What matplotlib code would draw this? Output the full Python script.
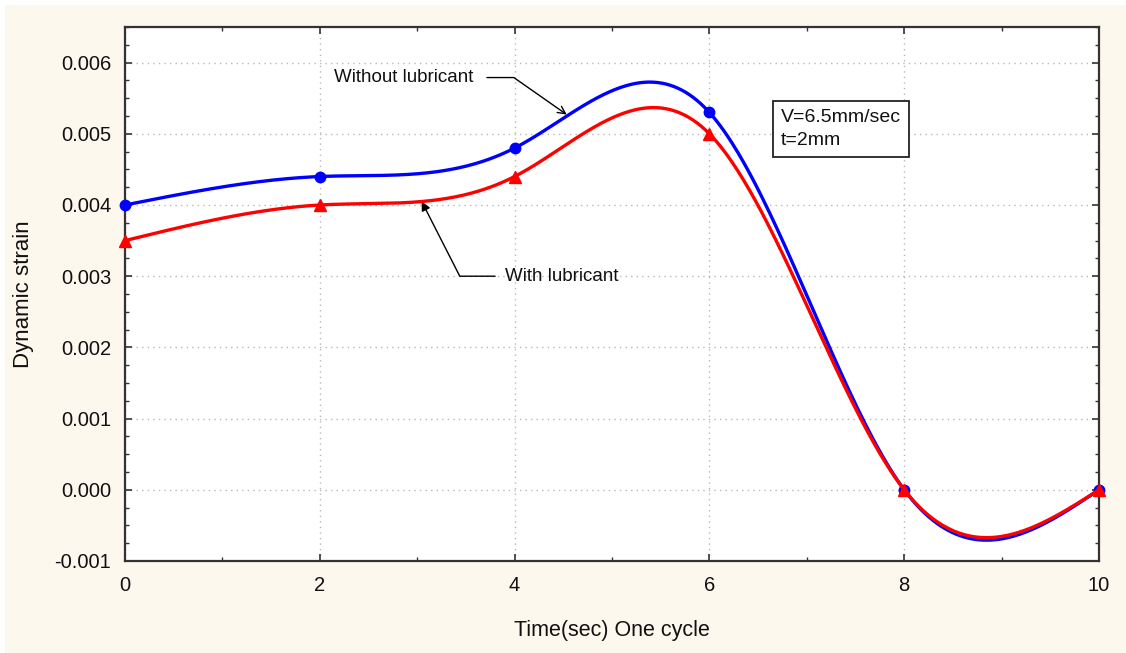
import numpy as np
import matplotlib
matplotlib.use('Agg')
import matplotlib.pyplot as plt
from matplotlib.patches import Rectangle
from matplotlib.ticker import MultipleLocator, FormatStrFormatter

# measured points, one cycle
time_s = [0, 2, 4, 6, 8, 10]
strain_dry = [0.0040, 0.0044, 0.0048, 0.0053, 0.0, 0.0]   # without lubricant
strain_lub = [0.0035, 0.0040, 0.0044, 0.0050, 0.0, 0.0]   # with lubricant

BG = '#fdf8ed'

plt.rcParams['font.family'] = ['Liberation Sans', 'DejaVu Sans']


def natural_spline(t, y, tt):
    # natural cubic spline through (t, y), evaluated at tt
    t = np.asarray(t, dtype=float)
    y = np.asarray(y, dtype=float)
    n = len(t)
    h = np.diff(t)
    A = np.zeros((n, n))
    r = np.zeros(n)
    A[0, 0] = A[-1, -1] = 1.0
    for i in range(1, n - 1):
        A[i, i - 1] = h[i - 1]
        A[i, i] = 2 * (h[i - 1] + h[i])
        A[i, i + 1] = h[i]
        r[i] = 6 * ((y[i + 1] - y[i]) / h[i] - (y[i] - y[i - 1]) / h[i - 1])
    M = np.linalg.solve(A, r)
    k = np.clip(np.searchsorted(t, tt) - 1, 0, n - 2)
    t0, t1 = t[k], t[k + 1]
    hk = t1 - t0
    a = (t1 - tt) / hk
    b = (tt - t0) / hk
    return a * y[k] + b * y[k + 1] + ((a ** 3 - a) * M[k] + (b ** 3 - b) * M[k + 1]) * hk ** 2 / 6


fig = plt.figure(figsize=(11.26, 6.53), dpi=100, facecolor='white')
fig.patches.append(Rectangle((5 / 1126, 0), 1, 648 / 653, transform=fig.transFigure,
                             facecolor=BG, edgecolor='none', zorder=-10))
ax = fig.add_axes([125 / 1126, 92 / 653, 974 / 1126, 534 / 653])
ax.set_facecolor('white')

ax.set_xlim(0, 10)
ax.set_ylim(-0.001, 0.0065)
ax.xaxis.set_major_locator(MultipleLocator(2))
ax.xaxis.set_minor_locator(MultipleLocator(1))
ax.yaxis.set_major_locator(MultipleLocator(0.001))
ax.yaxis.set_minor_locator(MultipleLocator(0.00025))
ax.yaxis.set_major_formatter(FormatStrFormatter('%.3f'))

ax.grid(True, which='major', color='#b8b8b8', linestyle=(0, (1, 3)), linewidth=1.0)
ax.set_axisbelow(True)

ax.tick_params(which='both', direction='in', top=True, right=True, colors='#333333',
               labelcolor='#111111', labelsize=14.5)
ax.tick_params(which='major', length=5, width=1.2)
ax.tick_params(which='minor', length=3, width=1.0)
ax.tick_params(axis='y', pad=10)
ax.tick_params(axis='x', pad=11)
for s in ax.spines.values():
    s.set_color('#333333')
    s.set_linewidth(1.6)

# smooth curves through the measured points
xx = np.linspace(time_s[0], time_s[-1], 500)
ax.plot(xx, natural_spline(time_s, strain_dry, xx), color='#0000ff', linewidth=2.4,
        zorder=3, clip_on=False)
ax.plot(time_s, strain_dry, linestyle='none', marker='o', markersize=7.5,
        color='#0000ff', zorder=4, clip_on=False)
ax.plot(xx, natural_spline(time_s, strain_lub, xx), color='#ff0000', linewidth=2.4,
        zorder=5, clip_on=False)
ax.plot(time_s, strain_lub, linestyle='none', marker='^', markersize=9,
        color='#ff0000', zorder=6, clip_on=False)

ax.set_xlabel('Time(sec) One cycle', fontsize=15.5, color='#111111', labelpad=18)
ax.set_ylabel('Dynamic strain', fontsize=16, color='#111111', labelpad=15)

# leader labels
ax.annotate('Without lubricant', xy=(4.535, 0.00527), xytext=(3.573, 0.00579),
            fontsize=13.5, color='#111111', ha='right', va='center',
            arrowprops=dict(arrowstyle='->', color='black', lw=1.0, shrinkA=8, shrinkB=0,
                            connectionstyle='angle,angleA=0,angleB=145,rad=0'))
ax.annotate('With lubricant', xy=(3.046, 0.00405), xytext=(3.90, 0.00300),
            fontsize=13.5, color='#111111', ha='left', va='center',
            arrowprops=dict(arrowstyle='-|>', color='black', lw=1.0, shrinkA=5, shrinkB=0,
                            connectionstyle='angle,angleA=0,angleB=-63,rad=0'))

ax.text(6.735, 0.00535, 'V=6.5mm/sec\nt=2mm', fontsize=14, color='#111111',
        ha='left', va='top', linespacing=1.45,
        bbox=dict(boxstyle='square,pad=0.42', facecolor='white', edgecolor='#222222',
                  linewidth=1.3))

fig.savefig('out.png', dpi=100, facecolor=fig.get_facecolor())
